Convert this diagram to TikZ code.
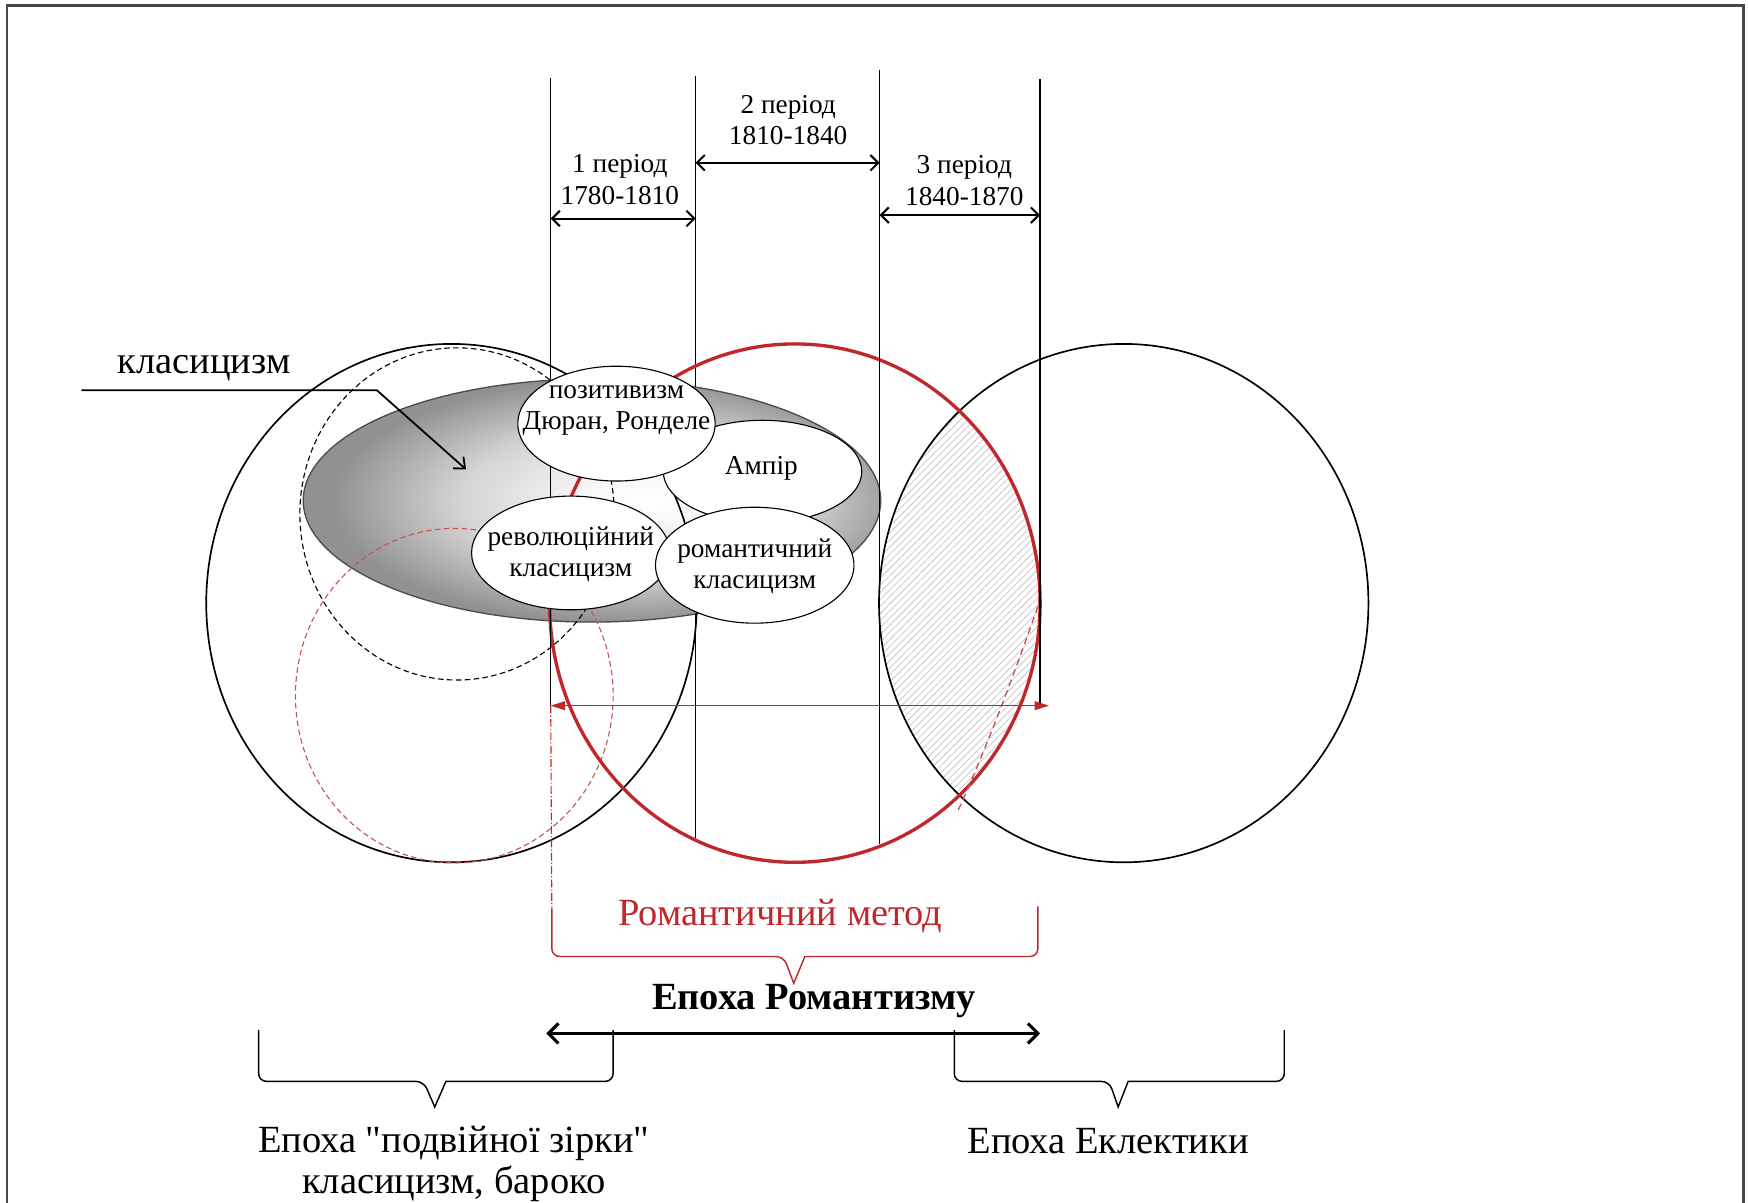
\documentclass[tikz,border=0pt]{standalone}
\usepackage{fontspec}
\setmainfont{Liberation Serif}[Ligatures=TeXOff]
\usetikzlibrary{arrows.meta,shapes.geometric,patterns.meta}
\definecolor{romred}{RGB}{192,39,45}
\definecolor{dashred}{RGB}{196,84,84}
\definecolor{framec}{RGB}{70,70,70}
\pgfdeclareradialshading{grayell}{\pgfpoint{5bp}{0bp}}{color(0bp)=(white); color(5bp)=(white!97!black); color(15bp)=(black!17); color(25bp)=(black!43); color(50bp)=(black!43)}
\newcommand\fsm{\fontsize{24.5pt}{28pt}\selectfont}
\newcommand\fbg{\fontsize{34.5pt}{36pt}\selectfont}
\tikzset{
  vline/.style={line width=1.2pt, black},
  parrow/.style={line width=1.8pt, {Straight Barb[length=7pt,width=14pt]}-{Straight Barb[length=7pt,width=14pt]}},
  bigcirc/.style={line width=1.5pt, black},
  wellipse/.style={ellipse, draw=black, line width=1pt, fill=white, inner sep=0pt},
  etxt/.style={font=\fsm, align=center, inner sep=0pt},
  ptxt/.style={font=\fsm, align=center, inner sep=0pt},
  btxt/.style={font=\fbg, align=center, inner sep=0pt},
  bracec/.style={line width=1.3pt, rounded corners=7pt},
}
\begin{document}
\begin{tikzpicture}[x=1pt,y=-1pt]
\useasboundingbox (0,0) rectangle (1568,1079);
% frame
\draw[framec, line width=2pt] (6,1079) -- (6,5) -- (1564,5) -- (1564,1079);

% vertical line coordinates
\coordinate (l1t) at (494,70);  \coordinate (l1b) at (494,633);
\coordinate (l2t) at (624,68);  \coordinate (l2b) at (624,752);
\coordinate (l3t) at (789,63);  \coordinate (l3b) at (789,757);
\coordinate (l4t) at (933,71);  \coordinate (l4b) at (933,633);

% line 2 lies under the grey ellipse
\draw[vline] (l2t) -- (l2b);

% grey shaded ellipse
\shadedraw[shading=grayell, draw=black!70, line width=1.2pt] (531,449) ellipse [x radius=259, y radius=109];

% hatched lens
\begin{scope}
  \clip (1008,541) ellipse [x radius=219.5, y radius=232.5];
  \fill[pattern={Lines[angle=45,distance=4.5pt,line width=0.7pt]}, pattern color=black!22] (713,541) ellipse [x radius=220, y radius=232.5];
\end{scope}

% big circles
\draw[bigcirc] (405,541) ellipse [x radius=220, y radius=232.5];
\draw[bigcirc] (1008,541) ellipse [x radius=219.5, y radius=232.5];
\draw[black, line width=1pt, dash pattern=on 5pt off 3pt] (410,461) ellipse [x radius=141, y radius=149];
\draw[dashred, line width=1pt, dash pattern=on 5pt off 3pt] (407.5,624) ellipse [x radius=142.5, y radius=150];
\draw[romred, line width=3pt] (713,541) ellipse [x radius=220, y radius=232.5];

% other vertical lines
\draw[vline] (l1t) -- (l1b);
\draw[vline] (l3t) -- (l3b);
\draw[vline] (l4t) -- (l4b);

% red dashed curve in lens
\coordinate (dc1) at (931,544);
\coordinate (dc2) at (858,730);
\draw[dashred, line width=1.2pt, dash pattern=on 6pt off 4pt] (dc1) .. controls (915,590) and (885,672) .. (dc2);

% white ellipses
\node[wellipse, minimum width=178pt, minimum height=92pt] (ampir) at (684,423) {};
\node[wellipse, minimum width=178pt, minimum height=102pt] (revk) at (512,496) {};
\node[wellipse, minimum width=177pt, minimum height=103pt] (posit) at (553,380) {};
\node[wellipse, minimum width=178pt, minimum height=104pt] (romk) at (677,507) {};
\node[etxt] (tposit) at (553,368) {позитивизм\\Дюран, Ронделе};
\node[etxt] (tampir) at (683,420) {Ампір};
\node[etxt] (trevk) at (512,497) {революційний\\класицизм};
\node[etxt] (tromk) at (677,508) {романтичний\\класицизм};

% period arrows and labels
\coordinate (p1a) at (494,196); \coordinate (p1b) at (624,196);
\coordinate (p2a) at (624,146); \coordinate (p2b) at (789,146);
\coordinate (p3a) at (789,193); \coordinate (p3b) at (933,193);
\draw[parrow] (p1a) -- (p1b);
\draw[parrow] (p2a) -- (p2b);
\draw[parrow] (p3a) -- (p3b);
\node[ptxt] (per1) at (556,161) {1 період\\1780-1810};
\node[ptxt] (per2) at (707,108) {2 період\\1810-1840};
\node[ptxt] (per3) at (865,162) {3 період\\1840-1870};

% classicism label
\node[btxt] (klas) at (183,330) {класицизм};
\coordinate (ka) at (73,350); \coordinate (kb) at (338,350); \coordinate (kc) at (418,421);
\draw[line width=1.6pt, -{Straight Barb[length=8pt,width=14pt]}] (ka) -- (kb) -- (kc);

% red arrow and dash-dot line
\coordinate (ra) at (494,633); \coordinate (rb) at (941,633);
\draw[romred, line width=1.2pt, {Triangle[length=13pt,width=8pt]}-{Triangle[length=13pt,width=8pt]}] (ra) -- (rb);
\coordinate (rbl) at (495,815);
\draw[romred, line width=1pt, dash pattern=on 7pt off 2pt on 1pt off 2pt] (ra) -- (rbl);

% red brace
\draw[romred, bracec] (rbl) -- (495,858) -- (703,858) [sharp corners] -- (712,882) -- (722,858) [rounded corners=7pt] -- (931,858) -- (931,813);
\node[btxt, text=romred] (rmeth) at (700,822) {Романтичний метод};

% epoch of romanticism
\node[btxt, font=\fbg\bfseries] (eroman) at (730,898) {Епоха Романтизму};
\coordinate (ba) at (490,927); \coordinate (bb) at (933,927);
\draw[line width=2.8pt, {Straight Barb[length=9pt,width=18pt]}-{Straight Barb[length=9pt,width=18pt]}] (ba) -- (bb);

% black braces
\draw[bracec] (232,924) -- (232,970) -- (380,970) [sharp corners] -- (390,993) -- (400,970) [rounded corners=7pt] -- (550,970) -- (550,924);
\draw[bracec] (856,924) -- (856,970) -- (995,970) [sharp corners] -- (1003,993) -- (1012,970) [rounded corners=7pt] -- (1152,970) -- (1152,924);

\node[btxt] (edz) at (407,1044) {Епоха "подвійної зірки"\\класицизм, бароко};
\node[btxt] (eekl) at (994,1024) {Епоха Еклектики};
\end{tikzpicture}
\end{document}
